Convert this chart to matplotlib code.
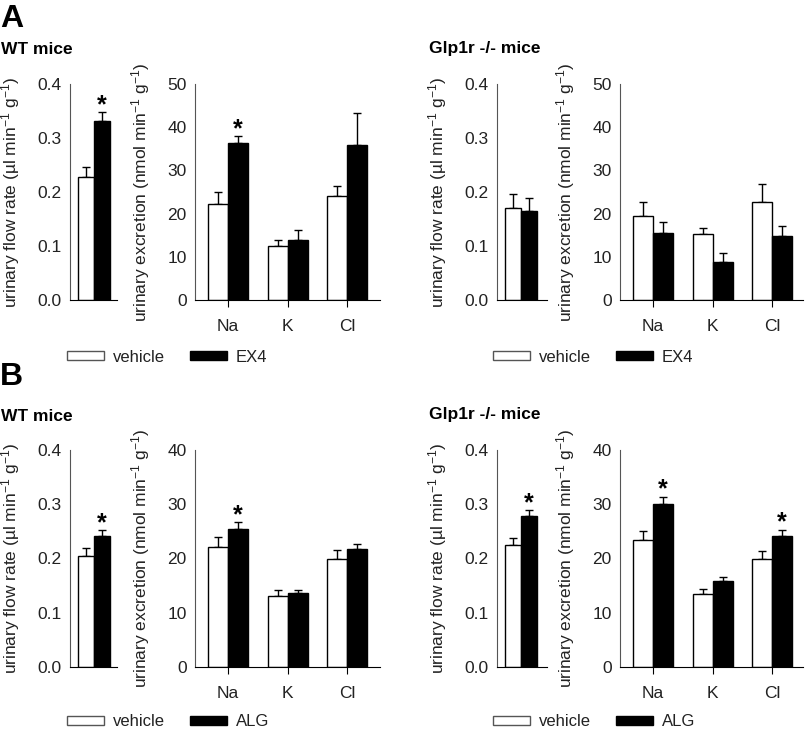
import matplotlib
matplotlib.use("Agg")
import matplotlib.pyplot as plt
from matplotlib.patches import Patch

plt.rcParams["font.family"] = ["Liberation Sans", "DejaVu Sans"]
plt.rcParams["mathtext.fontset"] = "custom"
plt.rcParams["mathtext.rm"] = "Liberation Sans"
plt.rcParams["mathtext.it"] = "Liberation Sans:italic"
plt.rcParams["mathtext.default"] = "regular"

# --- data ---
ions = ["Na", "K", "Cl"]

# urinary flow rate, [vehicle, treatment]
a_wt_flow = [0.227, 0.331]
a_wt_flow_err = [0.019, 0.017]
a_ko_flow = [0.170, 0.164]
a_ko_flow_err = [0.027, 0.025]
b_wt_flow = [0.205, 0.242]
b_wt_flow_err = [0.014, 0.010]
b_ko_flow = [0.224, 0.278]
b_ko_flow_err = [0.014, 0.011]

# urinary excretion per ion
a_wt_veh = [22.3, 12.5, 24.0]
a_wt_veh_err = [2.7, 1.4, 2.5]
a_wt_ex4 = [36.4, 13.9, 35.8]
a_wt_ex4_err = [1.6, 2.2, 7.5]
a_ko_veh = [19.4, 15.3, 22.8]
a_ko_veh_err = [3.4, 1.3, 4.0]
a_ko_ex4 = [15.4, 8.8, 14.8]
a_ko_ex4_err = [2.6, 2.0, 2.4]
b_wt_veh = [22.2, 13.1, 19.9]
b_wt_veh_err = [1.7, 1.1, 1.6]
b_wt_alg = [25.5, 13.6, 21.7]
b_wt_alg_err = [1.2, 0.6, 1.0]
b_ko_veh = [23.5, 13.5, 20.0]
b_ko_veh_err = [1.6, 0.9, 1.3]
b_ko_alg = [30.1, 15.8, 24.1]
b_ko_alg_err = [1.3, 0.8, 1.2]

W, H = 805, 735
fig = plt.figure(figsize=(W / 100, H / 100), dpi=100)

FS = 12.5
TXT = "#222222"
FLOW_LABEL = r"urinary flow rate (µl min$^{-1}$ g$^{-1}$)"
EXC_LABEL = r"urinary excretion (nmol min$^{-1}$ g$^{-1}$)"


def px_axes(x0, x1, ytop, ybot):
    # place axes from pixel positions
    return fig.add_axes([x0 / W, 1 - ybot / H, (x1 - x0) / W, (ybot - ytop) / H])


def style(ax, label, label_px, width_px):
    for s in ["top", "right"]:
        ax.spines[s].set_visible(False)
    ax.spines["left"].set_color("#555555")
    ax.spines["bottom"].set_color("black")
    ax.tick_params(axis="y", length=0, pad=6, labelsize=FS, labelcolor=TXT)
    ax.tick_params(axis="x", length=5, pad=9, labelsize=FS, labelcolor=TXT)
    ax.set_ylabel(label, fontsize=FS, color=TXT)
    ax.yaxis.set_label_coords(label_px / width_px, 0.5)


def star(ax, x, y):
    ax.annotate("*", (x, y), xytext=(0, 0), textcoords="offset points",
                ha="center", va="baseline", fontsize=18, fontweight="bold")


def flow_panel(x0, x1, ytop, ybot, vals, errs, starred):
    ax = px_axes(x0, x1, ytop, ybot)
    xs = [-0.5, 0.5]
    colors = ["white", "black"]
    ax.bar(xs, vals, width=1.0, color=colors, edgecolor="black", linewidth=1, zorder=2)
    ax.errorbar(xs, vals, yerr=[[0, 0], errs], fmt="none", ecolor="black",
                elinewidth=1, capsize=3, capthick=1, zorder=1)
    if starred:
        star(ax, xs[1], vals[1] + errs[1])
    ax.set_xlim(-1.5, -1.5 + (x1 - x0) / 16)
    ax.set_ylim(0, 0.4)
    ax.set_yticks([0, 0.1, 0.2, 0.3, 0.4])
    ax.set_yticklabels(["0.0", "0.1", "0.2", "0.3", "0.4"])
    ax.set_xticks([])
    style(ax, FLOW_LABEL, -48, x1 - x0)
    return ax


def exc_panel(x0, x1, ytop, ybot, veh, veh_err, trt, trt_err, ymax, starred):
    ax = px_axes(x0, x1, ytop, ybot)
    w = 20 / 59.5
    xs = list(range(len(ions)))
    xv = [x - w / 2 for x in xs]
    xt = [x + w / 2 for x in xs]
    ax.bar(xv, veh, width=w, color="white", edgecolor="black", linewidth=1, zorder=2)
    ax.bar(xt, trt, width=w, color="black", edgecolor="black", linewidth=1, zorder=2)
    ax.errorbar(xv, veh, yerr=[[0] * 3, veh_err], fmt="none", ecolor="black",
                elinewidth=1, capsize=3, capthick=1, zorder=1)
    ax.errorbar(xt, trt, yerr=[[0] * 3, trt_err], fmt="none", ecolor="black",
                elinewidth=1, capsize=3, capthick=1, zorder=1)
    for i in starred:
        star(ax, xt[i], trt[i] + trt_err[i])
    ax.set_xlim(-0.555, -0.555 + (x1 - x0) / 59.5)
    ax.set_ylim(0, ymax)
    ax.set_yticks(range(0, ymax + 1, 10))
    ax.set_xticks(xs)
    ax.set_xticklabels(ions)
    style(ax, EXC_LABEL, -43, x1 - x0)
    return ax


def legend(x, y, treat):
    handles = [Patch(facecolor="white", edgecolor="#555555", linewidth=1),
               Patch(facecolor="black", edgecolor="black", linewidth=1)]
    fig.legend(handles, ["vehicle", treat], loc="center left",
               bbox_to_anchor=(x / W, 1 - y / H), ncol=2, frameon=False,
               fontsize=12, handlelength=2.2, handleheight=0.42,
               handletextpad=0.55, columnspacing=1.5, borderpad=0,
               borderaxespad=0, labelcolor=TXT)


# panel A
A_TOP, A_BOT = 84, 300
flow_panel(70, 117, A_TOP, A_BOT, a_wt_flow, a_wt_flow_err, True)
exc_panel(195, 380, A_TOP, A_BOT, a_wt_veh, a_wt_veh_err, a_wt_ex4, a_wt_ex4_err, 50, [0])
flow_panel(497, 547, A_TOP, A_BOT, a_ko_flow, a_ko_flow_err, False)
exc_panel(620, 803, A_TOP, A_BOT, a_ko_veh, a_ko_veh_err, a_ko_ex4, a_ko_ex4_err, 50, [])
legend(67, 357, "EX4")
legend(493, 357, "EX4")

# panel B
B_TOP, B_BOT = 450, 667
flow_panel(70, 117, B_TOP, B_BOT, b_wt_flow, b_wt_flow_err, True)
exc_panel(195, 380, B_TOP, B_BOT, b_wt_veh, b_wt_veh_err, b_wt_alg, b_wt_alg_err, 40, [0])
flow_panel(497, 547, B_TOP, B_BOT, b_ko_flow, b_ko_flow_err, True)
exc_panel(620, 803, B_TOP, B_BOT, b_ko_veh, b_ko_veh_err, b_ko_alg, b_ko_alg_err, 40, [0, 2])
legend(67, 722, "ALG")
legend(493, 722, "ALG")

# titles
fig.text(0 / W, 1 - 19 / H, "A", fontsize=23, fontweight="bold", va="center", ha="left")
fig.text(0 / W, 1 - 377 / H, "B", fontsize=23, fontweight="bold", va="center", ha="left")
fig.text(1 / W, 1 - 49 / H, "WT mice", fontsize=12.5, fontweight="bold", va="center")
fig.text(429 / W, 1 - 48 / H, "Glp1r -/- mice", fontsize=12.5, fontweight="bold", va="center")
fig.text(1 / W, 1 - 416 / H, "WT mice", fontsize=12.5, fontweight="bold", va="center")
fig.text(429 / W, 1 - 414 / H, "Glp1r -/- mice", fontsize=12.5, fontweight="bold", va="center")

fig.savefig("out.png", dpi=100)
